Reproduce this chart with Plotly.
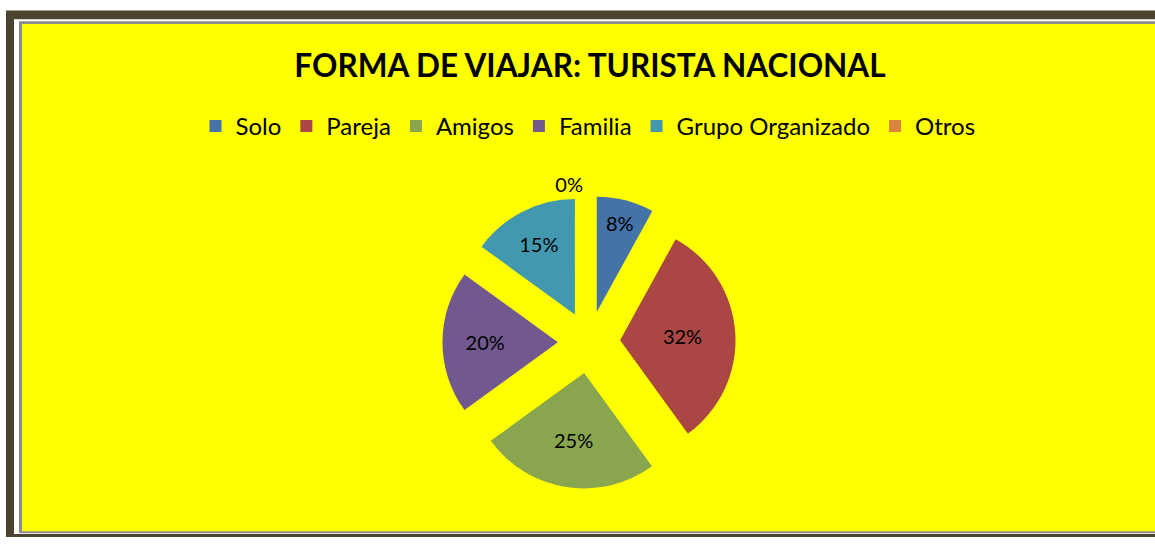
import plotly.graph_objects as go

W, H = 1155, 557

categories = ["Solo", "Pareja", "Amigos", "Familia", "Grupo Organizado", "Otros"]
values = [8, 32, 25, 20, 15, 0]
colors = ["#4572A7", "#AA4643", "#89A54E", "#71588F", "#4198AF", "#DB843D"]
title_text = "FORMA DE VIAJAR: TURISTA NACIONAL"


def px_x(x):
    return x / W


def px_y(y):
    return 1 - y / H


fig = go.Figure()
fig.add_trace(go.Pie(
    labels=categories,
    values=values,
    marker=dict(colors=colors, line=dict(width=0)),
    sort=False,
    direction="clockwise",
    rotation=0,
    pull=[0.27] * len(values),
    texttemplate="%{percent:.0%}",
    textposition=["inside"] * 5 + ["outside"],
    insidetextorientation="horizontal",
    textfont=dict(family="Lato", size=20, color="black"),
    hoverinfo="label+percent",
    domain=dict(x=[px_x(437), px_x(741)], y=[px_y(507), px_y(203)]),
    showlegend=True,
))

shapes = [
    dict(type="rect", x0=px_x(6), x1=1, y0=px_y(11), y1=0,
         fillcolor="#4A4430", line=dict(width=0)),
    dict(type="rect", x0=px_x(14), x1=1, y0=px_y(20), y1=px_y(554),
         fillcolor="#FFFFFF", line=dict(width=0)),
    dict(type="rect", x0=px_x(19), x1=1, y0=px_y(22), y1=px_y(553),
         fillcolor="#8C8C8C", line=dict(width=0)),
    dict(type="rect", x0=px_x(22), x1=1, y0=px_y(25), y1=px_y(551),
         fillcolor="#FFFF00", line=dict(width=0)),
]
for s in shapes:
    s.update(xref="paper", yref="paper", layer="below")

fig.update_layout(
    width=W, height=H,
    margin=dict(l=0, r=0, t=0, b=0),
    paper_bgcolor="#FFFFFF",
    plot_bgcolor="#FFFF00",
    shapes=shapes,
    title=dict(text="<b>" + title_text + "</b>", x=px_x(590), xanchor="center",
               y=px_y(68), yanchor="middle", xref="paper", yref="paper",
               font=dict(family="Lato", size=31.5, color="black")),
    legend=dict(orientation="h", x=px_x(588), xanchor="center",
                y=px_y(131), yanchor="middle",
                font=dict(family="Lato", size=24, color="black"),
                bgcolor="rgba(0,0,0,0)", itemwidth=30, traceorder="normal"),
    uniformtext=dict(minsize=20, mode="show"),
)

post = (
    "var gd=document.getElementById('{plot_id}');"
    "var h=document.documentElement,b=document.body;"
    "b.style.margin='0';b.style.padding='0';"
    "h.style.overflow='hidden';b.style.overflow='hidden';"
    "h.style.height='%dpx';b.style.height='%dpx';"
    "gd.style.position='fixed';gd.style.left='0';gd.style.top='0';"
    "gd.style.overflow='hidden';" % (H, H)
)

fig.write_html(
    "out.html",
    config={"displayModeBar": False},
    post_script=post,
)
